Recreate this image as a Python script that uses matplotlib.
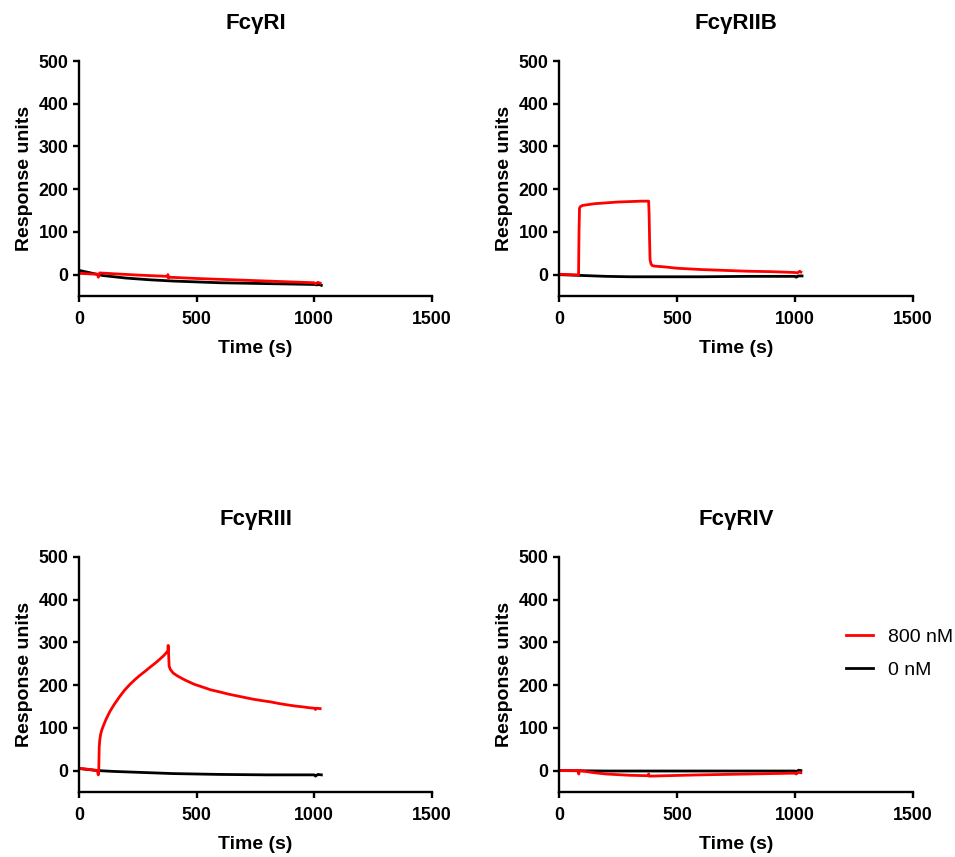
import matplotlib
matplotlib.use("Agg")
import matplotlib.pyplot as plt

plt.rcParams["font.family"] = ["Liberation Sans", "DejaVu Sans"]

RED, BLACK = "#ff0000", "#000000"

TITLES = ["FcγRI", "FcγRIIB", "FcγRIII", "FcγRIV"]
LABELS = ["800 nM", "0 nM"]
XTICKS = [0, 500, 1000, 1500]
YTICKS = [0, 100, 200, 300, 400, 500]

# FcγRI
t_RI_800 = [0, 40, 80, 82, 85, 88, 150, 250, 375, 378, 380, 383, 500, 600, 700, 800, 900, 1000, 1005, 1015, 1025]
ru_RI_800 = [3, 2, 1, -6, -2, 4, 2, -1, -4, 0, -8, -6, -9, -11, -13, -15, -17, -19, -22, -18, -20]
t_RI_0 = [0, 50, 100, 200, 300, 400, 500, 600, 700, 800, 900, 1000, 1010, 1020, 1030]
ru_RI_0 = [10, 4, -2, -8, -12, -15, -17, -19, -20, -21, -22, -23, -24, -23, -25]

# FcγRIIB
t_RIIB_800 = [0, 50, 83, 85, 87, 90, 100, 150, 200, 250, 300, 350, 380, 382, 384, 386, 390, 396, 405, 450, 500, 600, 700, 800, 900, 1000, 1010, 1020, 1025]
ru_RIIB_800 = [1, 0, -1, 100, 155, 159, 162, 166, 168, 170, 171, 172, 172, 140, 80, 35, 25, 21, 20, 18, 15, 12, 10, 8, 7, 5, 4, 8, 6]
t_RIIB_0 = [0, 100, 200, 300, 400, 600, 800, 1000, 1005, 1015, 1030]
ru_RIIB_0 = [0, -2, -4, -5, -5, -5, -4, -4, -6, -3, -3]

# FcγRIII
t_RIII_800 = [0, 40, 78, 82, 84, 86, 88, 92, 97, 103, 115, 132, 150, 174, 195, 217, 238, 259, 280, 302, 323, 344, 360, 373, 378,
              379, 381, 383, 388, 395, 401, 420, 440, 458, 490, 528, 560, 599, 635, 670, 705, 741, 775, 812, 850, 883, 920, 953, 980,
              1000, 1005, 1010, 1025]
ru_RIII_800 = [5, 3, 0, -10, 0, 55, 70, 85, 95, 104, 120, 139, 155, 174, 189, 202, 213, 223, 232, 242, 251, 261, 269, 277, 281,
               293, 272, 245, 237, 232, 228, 221, 215, 210, 202, 195, 189, 184, 179, 175, 171, 167, 164, 161, 157, 154, 151, 149, 147,
               146, 143, 146, 145]
t_RIII_0 = [0, 80, 150, 300, 400, 500, 600, 800, 1000, 1005, 1015, 1030]
ru_RIII_0 = [5, 0, -2, -5, -7, -8, -9, -10, -10, -13, -9, -10]

# FcγRIV
t_RIV_800 = [0, 80, 84, 87, 100, 150, 200, 300, 378, 380, 382, 450, 600, 800, 1000, 1005, 1015, 1025]
ru_RIV_800 = [0, 0, -8, 0, -1, -5, -8, -11, -12, -8, -13, -12, -10, -8, -6, -8, -4, -5]
t_RIV_0 = [0, 200, 500, 800, 1000, 1005, 1015, 1025]
ru_RIV_0 = [0, -1, -1, -1, -1, -3, 1, 0]

panels = [
    (t_RI_800, ru_RI_800, t_RI_0, ru_RI_0),
    (t_RIIB_800, ru_RIIB_800, t_RIIB_0, ru_RIIB_0),
    (t_RIII_800, ru_RIII_800, t_RIII_0, ru_RIII_0),
    (t_RIV_800, ru_RIV_800, t_RIV_0, ru_RIV_0),
]

fig = plt.figure(figsize=(9.55, 8.57), dpi=100)
# axes boxes in figure fraction (left, bottom, width, height)
boxes = [
    (0.0827, 0.6546, 0.3696, 0.2742),
    (0.5853, 0.6546, 0.3707, 0.2742),
    (0.0827, 0.0759, 0.3696, 0.2742),
    (0.5853, 0.0759, 0.3707, 0.2742),
]

for i, (box, title, (t8, r8, t0, r0)) in enumerate(zip(boxes, TITLES, panels)):
    ax = fig.add_axes(box)
    ax.plot(t0, r0, color=BLACK, lw=2, label=LABELS[1])
    ax.plot(t8, r8, color=RED, lw=2, label=LABELS[0])
    ax.set_xlim(0, 1500); ax.set_ylim(-50, 500)
    ax.set_xticks(XTICKS); ax.set_yticks(YTICKS)
    for s in ("top", "right"):
        ax.spines[s].set_visible(False)
    for s in ("left", "bottom"):
        ax.spines[s].set_linewidth(1.7)
    ax.tick_params(direction="out", length=4.5, width=1.7, labelsize=12.8, pad=3)
    ax.tick_params(axis="x", pad=6)
    for lab in ax.get_xticklabels() + ax.get_yticklabels():
        lab.set_fontweight("bold")
    ax.set_xlabel("Time (s)", fontsize=14, fontweight="bold", labelpad=9)
    ax.set_ylabel("Response units", fontsize=14, fontweight="bold", labelpad=4)
    ax.set_title(title, fontsize=16, fontweight="bold", pad=23)
    if i == 3:
        h, l = ax.get_legend_handles_labels()
        ax.legend(h[::-1], l[::-1], loc="center left", bbox_to_anchor=(0.76, 0.59),
                  frameon=False, fontsize=14, handlelength=1.4, handletextpad=0.8,
                  labelspacing=0.8)

fig.savefig("out.png", dpi=100)
